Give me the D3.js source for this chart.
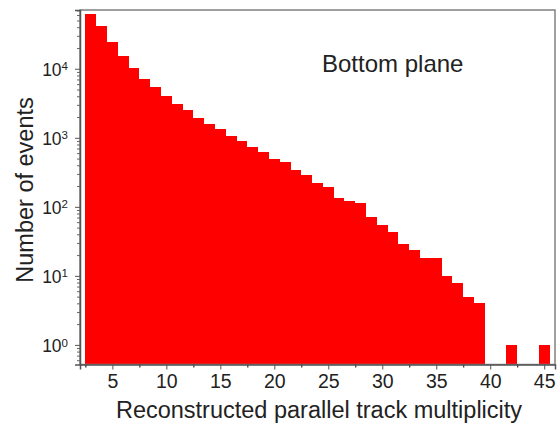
<!DOCTYPE html>
<html>
<head>
<meta charset="utf-8">
<script src="https://cdn.jsdelivr.net/npm/d3@7"></script>
<style>
  body { margin: 0; background: #fff; }
  svg { display: block; font-family: Arial, "Liberation Sans", sans-serif; }
</style>
</head>
<body>
<svg id="chart" width="558" height="425"></svg>
<script>
// track multiplicity bins and event counts
const multiplicity = [3, 4, 5, 6, 7, 8, 9, 10, 11, 12, 13, 14, 15, 16, 17, 18, 19, 20, 21,
  22, 23, 24, 25, 26, 27, 28, 29, 30, 31, 32, 33, 34, 35, 36, 37, 38, 39, 40, 41, 42, 43, 44, 45];
const events = [62000, 41000, 24200, 15400, 10400, 7160, 5480, 4060, 3110, 2550, 1930, 1580, 1340,
  1070, 905, 748, 621, 496, 444, 344, 291, 220, 193, 134, 123, 112, 72, 55, 43, 29, 24, 18, 18,
  10, 8, 5, 4, 0, 0, 1, 0, 0, 1];
const xTicks = [5, 10, 15, 20, 25, 30, 35, 40, 45];
const yTicks = [1, 10, 100, 1000, 10000];

const svg = d3.select('#chart');
const margin = { top: 10, right: 3, bottom: 60.5, left: 80 };
const width = 558 - margin.left - margin.right;
const height = 425 - margin.top - margin.bottom;
const g = svg.append('g').attr('transform', `translate(${margin.left},${margin.top})`);

const x = d3.scaleLinear().domain([2, 46]).range([0, width]);
const y = d3.scaleLog().domain([0.52, 71000]).range([height, 0]);

const bins = multiplicity.map((m, i) => ({ m, n: events[i] })).filter(d => d.n > 0);

g.selectAll('.bar')
  .data(bins)
  .enter()
  .append('rect')
  .attr('class', 'bar')
  .attr('x', d => x(d.m - 0.5))
  .attr('width', d => x(d.m + 0.5) - x(d.m - 0.5))
  .attr('y', d => y(d.n))
  .attr('height', d => height - y(d.n))
  .attr('fill', '#ff0000')
  .attr('shape-rendering', 'crispEdges');

// frame
g.append('rect')
  .attr('width', width)
  .attr('height', height)
  .attr('fill', 'none')
  .attr('stroke', '#808080')
  .attr('stroke-width', 1.5);

// x axis
const xMinor = d3.range(2.5, 46, 2.5).filter(v => v % 5 !== 0);
g.append('g')
  .attr('transform', `translate(0,${height})`)
  .call(d3.axisBottom(x).tickValues(xMinor).tickSize(3).tickFormat(''))
  .call(a => a.select('.domain').remove());
const xAxis = g.append('g')
  .attr('transform', `translate(0,${height})`)
  .call(d3.axisBottom(x).tickValues(xTicks).tickSize(5).tickPadding(5));
xAxis.select('.domain').attr('stroke', '#555').attr('stroke-width', 1.5);
xAxis.selectAll('.tick line').attr('stroke', '#555');
xAxis.selectAll('.tick text').attr('font-size', 19.5).attr('fill', '#222');

// y axis with log minor ticks
const yMinor = [];
[-1, 0, 1, 2, 3, 4].forEach(k => {
  d3.range(2, 10).forEach(m => {
    const v = m * Math.pow(10, k);
    if (v >= 0.52 && v <= 71000) yMinor.push(v);
  });
});
g.append('g')
  .call(d3.axisLeft(y).tickValues(yMinor).tickSize(3).tickFormat(''))
  .call(a => a.select('.domain').remove())
  .selectAll('.tick line').attr('stroke', '#666');
const yAxis = g.append('g')
  .call(d3.axisLeft(y).tickValues(yTicks).tickSize(5).tickFormat(''));
yAxis.select('.domain').attr('stroke', '#555').attr('stroke-width', 1.5);
yAxis.selectAll('.tick line').attr('stroke', '#555');
yAxis.selectAll('.tick')
  .append('text')
  .attr('x', -12)
  .attr('dy', '0.36em')
  .attr('text-anchor', 'end')
  .attr('fill', '#222')
  .attr('font-size', 17.5)
  .each(function(d) {
    const t = d3.select(this);
    t.append('tspan').text('10');
    t.append('tspan')
      .attr('font-size', 11.5)
      .attr('dy', '-0.45em')
      .text(Math.round(Math.log10(d)));
  });

// labels
svg.append('text')
  .attr('x', 319)
  .attr('y', 418)
  .attr('text-anchor', 'middle')
  .attr('font-size', 23.5)
  .attr('fill', '#222')
  .text('Reconstructed parallel track multiplicity');

svg.append('text')
  .attr('transform', 'translate(33,190) rotate(-90)')
  .attr('text-anchor', 'middle')
  .attr('font-size', 23.5)
  .attr('fill', '#222')
  .text('Number of events');

g.append('text')
  .attr('x', 242)
  .attr('y', 62)
  .attr('font-size', 24)
  .attr('fill', '#222')
  .text('Bottom plane');
</script>
</body>
</html>
